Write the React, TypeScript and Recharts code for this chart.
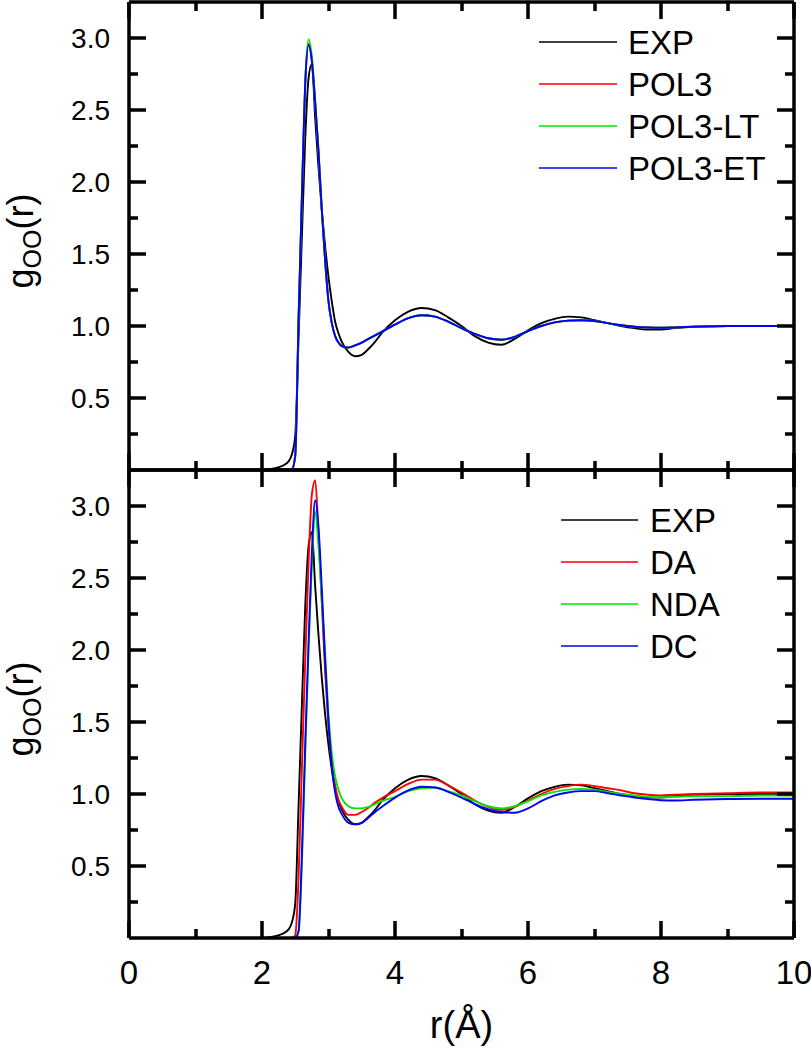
import React from "react";
import { LineChart, Line, XAxis, YAxis } from "recharts";

const FONT = "'Liberation Sans', Arial, Helvetica, sans-serif";

// r grid (Å), shared by every curve
const R = [
  0, 1.9, 2.0, 2.1, 2.2, 2.3, 2.4, 2.45, 2.5, 2.55, 2.6, 2.65, 2.7, 2.75, 2.8, 2.85, 2.9,
  2.95, 3.0, 3.05, 3.1, 3.15, 3.2, 3.3, 3.4, 3.5, 3.6, 3.7, 3.8, 4.0, 4.2, 4.4, 4.6, 4.8,
  5.0, 5.2, 5.4, 5.6, 5.8, 6.0, 6.2, 6.4, 6.6, 6.8, 7.0, 7.2, 7.4, 7.6, 7.8, 8.0, 8.2,
  8.5, 9.0, 9.5, 10,
];

const EXP = [
  0, 0, 0, 0.004, 0.012, 0.028, 0.06, 0.11, 0.24, 0.92, 1.62, 2.3, 2.72, 2.82, 2.44, 2.1,
  1.8, 1.55, 1.34, 1.17, 1.03, 0.95, 0.89, 0.82, 0.79, 0.8, 0.84, 0.89, 0.95, 1.04, 1.1,
  1.125, 1.11, 1.06, 1.0, 0.93, 0.885, 0.87, 0.91, 0.97, 1.02, 1.05, 1.065, 1.06, 1.04,
  1.02, 1.0, 0.985, 0.975, 0.975, 0.985, 0.995, 1.0, 1.0, 1.0,
];

const POL3 = [
  0, 0, 0, 0, 0, 0, 0, 0.005, 0.1, 1.05, 1.9, 2.68, 2.96, 2.84, 2.55, 2.21, 1.8, 1.45,
  1.17, 1.02, 0.93, 0.885, 0.86, 0.85, 0.865, 0.885, 0.91, 0.935, 0.96, 1.01, 1.055, 1.075,
  1.065, 1.03, 0.985, 0.945, 0.915, 0.905, 0.925, 0.965, 1.0, 1.025, 1.037, 1.04, 1.035,
  1.02, 1.005, 0.995, 0.99, 0.988, 0.99, 0.995, 1.0, 1.0, 1.0,
];

const POL3_LT = [
  0, 0, 0, 0, 0, 0, 0, 0.005, 0.1, 1.05, 1.9, 2.7, 2.99, 2.87, 2.56, 2.21, 1.8, 1.45,
  1.17, 1.02, 0.93, 0.885, 0.86, 0.85, 0.865, 0.885, 0.91, 0.935, 0.96, 1.01, 1.055, 1.075,
  1.065, 1.03, 0.985, 0.945, 0.915, 0.905, 0.925, 0.965, 1.0, 1.025, 1.037, 1.04, 1.035,
  1.02, 1.005, 0.995, 0.99, 0.988, 0.99, 0.995, 1.0, 1.0, 1.0,
];

const POL3_ET = [
  0, 0, 0, 0, 0, 0, 0, 0.005, 0.1, 1.05, 1.9, 2.68, 2.95, 2.84, 2.55, 2.21, 1.8, 1.45,
  1.17, 1.02, 0.93, 0.885, 0.86, 0.85, 0.865, 0.885, 0.91, 0.935, 0.96, 1.01, 1.055, 1.075,
  1.065, 1.03, 0.985, 0.945, 0.915, 0.905, 0.925, 0.965, 1.0, 1.025, 1.037, 1.04, 1.035,
  1.02, 1.005, 0.995, 0.99, 0.988, 0.99, 0.995, 1.0, 1.0, 1.0,
];

const DA = [
  0, 0, 0, 0, 0, 0, 0, 0, 0.02, 0.42, 1.18, 1.93, 2.6, 3.08, 3.18, 2.8, 2.32, 1.84, 1.47,
  1.21, 1.06, 0.96, 0.91, 0.855, 0.855, 0.875, 0.905, 0.94, 0.97, 1.02, 1.07, 1.1, 1.1,
  1.06, 1.01, 0.955, 0.91, 0.89, 0.91, 0.955, 1.0, 1.035, 1.055, 1.065, 1.055, 1.04, 1.025,
  1.005, 0.995, 0.99, 0.995, 1.0, 1.005, 1.01, 1.01,
];

const NDA = [
  0, 0, 0, 0, 0, 0, 0, 0, 0, 0.04, 0.52, 1.28, 2.0, 2.6, 2.96, 2.72, 2.35, 1.98, 1.55,
  1.28, 1.12, 1.03, 0.97, 0.915, 0.9, 0.9, 0.91, 0.93, 0.95, 0.98, 1.02, 1.04, 1.045, 1.02,
  0.99, 0.95, 0.915, 0.9, 0.915, 0.95, 0.99, 1.015, 1.03, 1.035, 1.03, 1.015, 1.0, 0.99,
  0.98, 0.977, 0.98, 0.985, 0.985, 0.99, 0.99,
];

const DC = [
  0, 0, 0, 0, 0, 0, 0, 0, 0, 0.05, 0.58, 1.35, 2.05, 2.68, 3.04, 2.85, 2.42, 1.92, 1.5,
  1.2, 1.01, 0.91, 0.86, 0.8, 0.79, 0.8, 0.835, 0.875, 0.91, 0.975, 1.025, 1.05, 1.045,
  1.015, 0.975, 0.93, 0.895, 0.875, 0.87, 0.9, 0.95, 0.99, 1.01, 1.02, 1.02, 1.005, 0.99,
  0.975, 0.965, 0.957, 0.955, 0.96, 0.965, 0.967, 0.967,
];

const X_TICKS = [0, 1, 2, 3, 4, 5, 6, 7, 8, 9, 10];
const Y_TICKS = [0.25, 0.5, 0.75, 1.0, 1.25, 1.5, 1.75, 2.0, 2.25, 2.5, 2.75, 3.0];
const X_DOMAIN = [0, 10];
const Y_DOMAIN = [0, 3.25];

const TOP_SERIES = [
  { key: "EXP", color: "#000000", values: EXP },
  { key: "POL3", color: "#ff0000", values: POL3 },
  { key: "POL3-LT", color: "#00e600", values: POL3_LT },
  { key: "POL3-ET", color: "#0000ff", values: POL3_ET },
];

const BOTTOM_SERIES = [
  { key: "EXP", color: "#000000", values: EXP },
  { key: "DA", color: "#ff0000", values: DA },
  { key: "NDA", color: "#00e600", values: NDA },
  { key: "DC", color: "#0000ff", values: DC },
];

type Series = { key: string; color: string; values: number[] };

const buildRows = (series: Series[]) =>
  R.map((r, i) => {
    const row: Record<string, number> = { r };
    series.forEach((s) => (row[s.key] = s.values[i]));
    return row;
  });

const AXIS = { stroke: "#000", strokeWidth: 3.5 };
const TICK_W = 3.5;

const isMajorY = (v: number) => Math.abs(v * 2 - Math.round(v * 2)) < 1e-6;

// tick marks point inward, labels (when wanted) sit outside
function xTick(side: "top" | "bottom", labels: boolean) {
  return (p: any) => {
    const major = p.payload.value % 2 === 0;
    const len = major ? 17 : 9;
    const dir = side === "bottom" ? -1 : 1;
    const x = Math.round(p.x);
    return (
      <g>
        <rect x={x - TICK_W / 2} y={dir > 0 ? p.y : p.y - len} width={TICK_W} height={len} fill="#000" />
        {labels && major && (
          <text x={x} y={p.y + 46} textAnchor="middle" fontSize={33} fontFamily={FONT} fill="#000">
            {p.payload.value}
          </text>
        )}
      </g>
    );
  };
}

function yTick(side: "left" | "right") {
  return (p: any) => {
    const major = isMajorY(p.payload.value);
    const len = major ? 17 : 9;
    const dir = side === "left" ? 1 : -1;
    const y = Math.round(p.y);
    return (
      <g>
        <rect x={dir > 0 ? p.x : p.x - len} y={y - TICK_W / 2} width={len} height={TICK_W} fill="#000" />
        {side === "left" && major && (
          <text x={p.x - 19} y={y} dy="0.36em" textAnchor="end" fontSize={28} fontFamily={FONT} fill="#000">
            {p.payload.value.toFixed(1)}
          </text>
        )}
      </g>
    );
  };
}

const YTitle = (p: any) => {
  const vb = p.viewBox;
  const cy = vb.y + vb.height / 2 + 5;
  return (
    <text transform={`translate(33, ${cy}) rotate(-90)`} textAnchor="middle" fontSize={36} fontFamily={FONT} fill="#000">
      g<tspan fontSize={25} dy={8}>OO</tspan>
      <tspan dy={-8}>(r)</tspan>
    </text>
  );
};

const XTitle = (p: any) => {
  const vb = p.viewBox;
  return (
    <text x={vb.x + vb.width / 2} y={vb.y + 100} textAnchor="middle" fontSize={38} fontFamily={FONT} fill="#000">
      r(Å)
    </text>
  );
};

function Panel({ series, height, bottomAxisHeight, showXLabels }: {
  series: Series[];
  height: number;
  bottomAxisHeight: number;
  showXLabels: boolean;
}) {
  return (
    <LineChart width={811} height={height} data={buildRows(series)} margin={{ top: 0, right: 0, bottom: 0, left: 0 }}>
      <XAxis
        xAxisId="b"
        dataKey="r"
        type="number"
        domain={X_DOMAIN}
        allowDataOverflow
        ticks={X_TICKS}
        interval={0}
        height={bottomAxisHeight}
        tickSize={0}
        tickMargin={0}
        tickLine={false}
        axisLine={AXIS}
        tick={xTick("bottom", showXLabels)}
        label={showXLabels ? { content: XTitle } : undefined}
      />
      <XAxis
        xAxisId="t"
        orientation="top"
        dataKey="r"
        type="number"
        domain={X_DOMAIN}
        allowDataOverflow
        ticks={X_TICKS}
        interval={0}
        height={2}
        tickSize={0}
        tickMargin={0}
        tickLine={false}
        axisLine={AXIS}
        tick={xTick("top", false)}
      />
      <YAxis
        yAxisId="l"
        type="number"
        domain={Y_DOMAIN}
        allowDataOverflow
        ticks={Y_TICKS}
        interval={0}
        width={129}
        tickSize={0}
        tickMargin={0}
        tickLine={false}
        axisLine={AXIS}
        tick={yTick("left")}
        label={{ content: YTitle }}
      />
      <YAxis
        yAxisId="r"
        orientation="right"
        type="number"
        domain={Y_DOMAIN}
        allowDataOverflow
        ticks={Y_TICKS}
        interval={0}
        width={17}
        tickSize={0}
        tickMargin={0}
        tickLine={false}
        axisLine={AXIS}
        tick={yTick("right")}
      />
      {series.map((s) => (
        <Line
          key={s.key}
          xAxisId="b"
          yAxisId="l"
          dataKey={s.key}
          type="monotone"
          stroke={s.color}
          strokeWidth={1.9}
          dot={false}
          isAnimationActive={false}
        />
      ))}
    </LineChart>
  );
}

function LegendBox({ series, x1, x2, tx, y0 }: { series: Series[]; x1: number; x2: number; tx: number; y0: number }) {
  return (
    <g>
      {series.map((s, i) => {
        const cy = y0 + i * 42;
        return (
          <g key={s.key}>
            <line x1={x1} x2={x2} y1={cy} y2={cy} stroke={s.color} strokeWidth={1.6} />
            <text x={tx} y={cy + 12} fontSize={33} fontFamily={FONT} fill="#000">
              {s.key}
            </text>
          </g>
        );
      })}
    </g>
  );
}

export default function App() {
  return (
    <div style={{ position: "absolute", left: 0, top: 0, width: 811, height: 1050, background: "#fff" }}>
      <div style={{ position: "absolute", left: 0, top: 0 }}>
        <Panel series={TOP_SERIES} height={472} bottomAxisHeight={2} showXLabels={false} />
      </div>
      <div style={{ position: "absolute", left: 0, top: 468 }}>
        <Panel series={BOTTOM_SERIES} height={582} bottomAxisHeight={112} showXLabels={true} />
      </div>
      <svg width={811} height={1050} style={{ position: "absolute", left: 0, top: 0, pointerEvents: "none" }}>
        <LegendBox series={TOP_SERIES} x1={539} x2={617} tx={628} y0={42} />
        <LegendBox series={BOTTOM_SERIES} x1={561} x2={638} tx={650} y0={520} />
      </svg>
    </div>
  );
}
